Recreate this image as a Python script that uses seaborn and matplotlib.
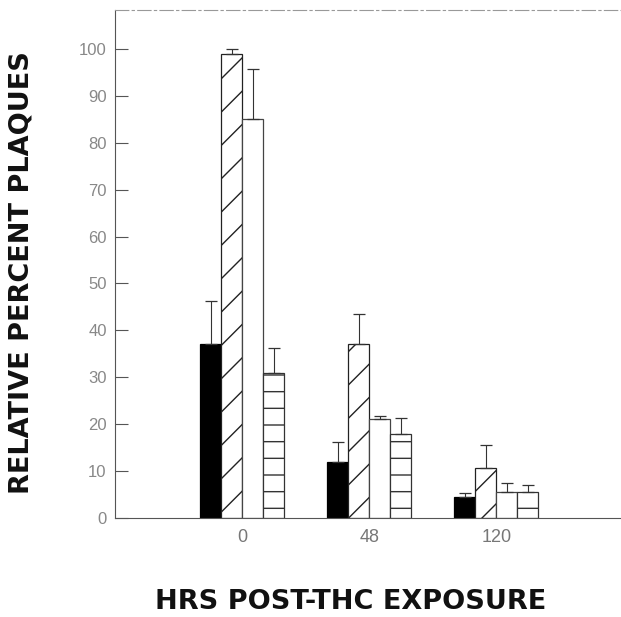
import matplotlib
matplotlib.use("Agg")
import matplotlib.pyplot as plt
import seaborn as sns
import pandas as pd

# values
hours = ['0', '48', '120']
series = ['solid', 'diagonal', 'open', 'horizontal']
solid_vals = [37, 12, 4.5]
solid_err = [9.3, 4.1, 0.8]
diagonal_vals = [99, 37, 10.6]
diagonal_err = [1.0, 6.5, 4.9]
open_vals = [85, 21, 5.5]
open_err = [10.7, 0.7, 2.0]
horizontal_vals = [31, 18, 5.5]
horizontal_err = [5.2, 3.3, 1.5]

vals = [solid_vals, diagonal_vals, open_vals, horizontal_vals]
errs = [solid_err, diagonal_err, open_err, horizontal_err]

df = pd.DataFrame({
    'hours': hours * 4,
    'series': [s for s in series for _ in hours],
    'value': solid_vals + diagonal_vals + open_vals + horizontal_vals,
})

sns.set_style('white')
plt.rcParams['font.family'] = ['Liberation Sans', 'DejaVu Sans']
plt.rcParams['hatch.linewidth'] = 1.0

fig = plt.figure(figsize=(6.21, 6.17), dpi=100)
ax = fig.add_axes([115 / 621, 1 - 518 / 617, (621 - 115) / 621, (518 - 10) / 617])

sns.barplot(data=df, x='hours', y='value', hue='series', order=hours,
            hue_order=series, width=0.66, legend=False, ax=ax,
            errorbar=None)

faces = ['black', 'white', 'white', 'white']
hatches = ['', '/', '', '-']
edges = ['black', '#222222', '#444444', '#333333']
bar_sets = list(ax.containers)
for i, cont in enumerate(bar_sets):
    for j, p in enumerate(cont.patches):
        p.set_facecolor(faces[i])
        p.set_hatch(hatches[i])
        p.set_edgecolor(edges[i])
        p.set_linewidth(0.9)
        cx = p.get_x() + p.get_width() / 2
        ax.errorbar(cx, vals[i][j], yerr=[[0], [errs[i][j]]], fmt='none',
                    ecolor='#333333', elinewidth=0.8, capsize=4, capthick=0.9)

ax.set_ylim(0, 108.3)
ax.set_xlim(-1, 2.98)
ax.set_yticks(range(0, 101, 10))

ax.spines['right'].set_visible(False)
ax.spines['left'].set_color('#555555')
ax.spines['left'].set_linewidth(0.8)
ax.spines['bottom'].set_color('#555555')
ax.spines['bottom'].set_linewidth(0.8)
ax.spines['top'].set_color('#999999')
ax.spines['top'].set_linewidth(0.8)
ax.spines['top'].set_linestyle((0, (12, 3, 2, 3)))

ax.tick_params(axis='y', direction='in', length=9, width=0.8, color='#555555',
               labelcolor='#888888', labelsize=12, pad=6, left=True)
ax.tick_params(axis='x', length=0, labelcolor='#777777', labelsize=13, pad=8)

ax.set_xlabel('HRS POST-THC EXPOSURE', fontsize=19.5, fontweight='bold',
              color='#111111', family='DejaVu Sans')
ax.set_ylabel('RELATIVE PERCENT PLAQUES', fontsize=19.5, fontweight='bold',
              color='#111111', family='DejaVu Sans')
ax.xaxis.set_label_coords(0.466, -0.14)
ax.yaxis.set_label_coords(-0.16, 0.484)

plt.savefig('out.png', dpi=100)
plt.close()
